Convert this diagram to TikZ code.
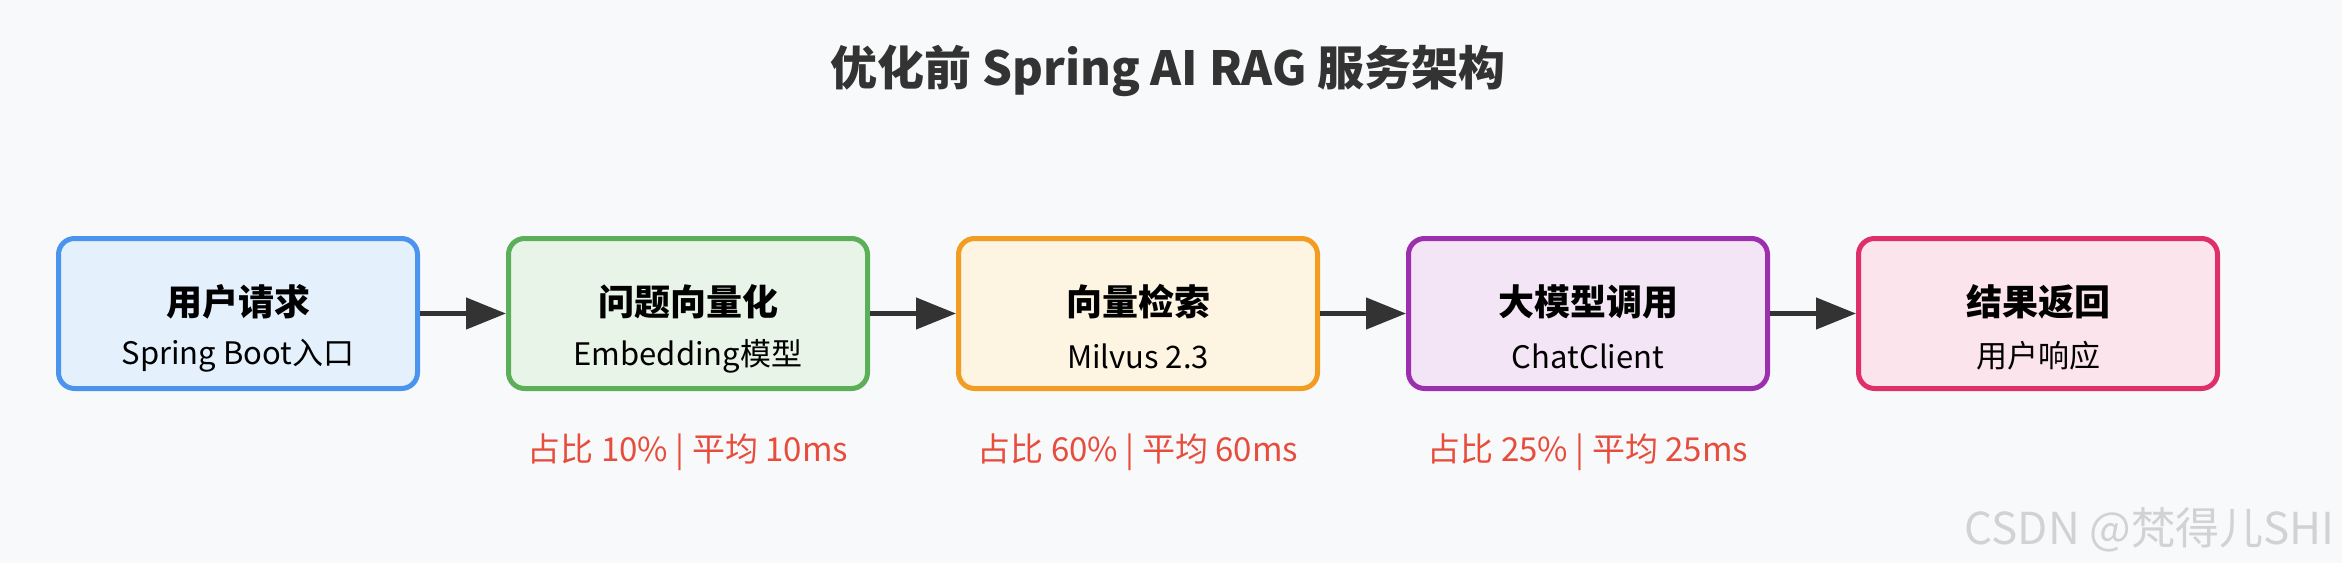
\documentclass[tikz,border=0pt]{standalone}
\usepackage{fontspec}
\setmainfont{Noto Sans CJK SC}
\usepackage{tikz}
\usetikzlibrary{arrows.meta,positioning}
\definecolor{pagebg}{HTML}{F8F9FA}
\definecolor{titlegray}{HTML}{333333}
\definecolor{arrowgray}{HTML}{333333}
\definecolor{costred}{HTML}{E74C3C}
\definecolor{markgray}{HTML}{D2D2D2}
\definecolor{blueline}{HTML}{4A94EE}
\definecolor{bluefill}{HTML}{E4F1FD}
\definecolor{greenline}{HTML}{5AAF58}
\definecolor{greenfill}{HTML}{E9F4E8}
\definecolor{orangeline}{HTML}{F39C22}
\definecolor{orangefill}{HTML}{FDF4E2}
\definecolor{purpleline}{HTML}{9B2FAE}
\definecolor{purplefill}{HTML}{F3E5F5}
\definecolor{pinkline}{HTML}{DF2F68}
\definecolor{pinkfill}{HTML}{FBE4EB}
\tikzset{
  stagebox/.style={draw, line width=5pt, rounded corners=16pt, minimum width=359pt, minimum height=150pt, outer sep=2.5pt, inner sep=0pt},
  headtext/.style={font=\fontsize{36}{40}\selectfont\bfseries, text=black, inner sep=0pt},
  subtext/.style={font=\fontsize{31}{35}\selectfont, text=black, inner sep=0pt},
  costlabel/.style={font=\fontsize{33}{38}\selectfont, text=costred, inner sep=0pt},
  flow/.style={-{Triangle[length=40pt,width=31pt]}, line width=4.5pt, draw=arrowgray}
}
\begin{document}
\begin{tikzpicture}[x=1pt, y=1pt, node distance=86pt]
\fill[pagebg] (0,0) rectangle (2342,-563);
\useasboundingbox (0,0) rectangle (2342,-563);
\node[font=\fontsize{47}{53}\selectfont\bfseries, text=titlegray] (title) at (1168,-71) {优化前 Spring AI RAG 服务架构};
\node[stagebox, draw=blueline, fill=bluefill] (req) at (238,-313.5) {};
\node[stagebox, draw=greenline, fill=greenfill, right=of req] (emb) {};
\node[stagebox, draw=orangeline, fill=orangefill, right=of emb] (vec) {};
\node[stagebox, draw=purpleline, fill=purplefill, right=of vec] (llm) {};
\node[stagebox, draw=pinkline, fill=pinkfill, right=of llm] (res) {};
\node[headtext] (reqh) at ([yshift=11.5pt]req.center) {用户请求};
\node[subtext] (reqs) at ([yshift=-42.5pt]req.center) {Spring Boot入口};
\node[headtext] (embh) at ([yshift=11.5pt]emb.center) {问题向量化};
\node[subtext] (embs) at ([yshift=-42.5pt]emb.center) {Embedding模型};
\node[headtext] (vech) at ([yshift=11.5pt]vec.center) {向量检索};
\node[subtext] (vecs) at ([yshift=-42.5pt]vec.center) {Milvus 2.3};
\node[headtext] (llmh) at ([yshift=11.5pt]llm.center) {大模型调用};
\node[subtext] (llms) at ([yshift=-42.5pt]llm.center) {ChatClient};
\node[headtext] (resh) at ([yshift=11.5pt]res.center) {结果返回};
\node[subtext] (ress) at ([yshift=-42.5pt]res.center) {用户响应};
\draw[flow] (req) -- (emb);
\draw[flow] (emb) -- (vec);
\draw[flow] (vec) -- (llm);
\draw[flow] (llm) -- (res);
\node[costlabel] (embc) at ([yshift=-138.5pt]emb.center) {占比 10\% | 平均 10ms};
\node[costlabel] (vecc) at ([yshift=-138.5pt]vec.center) {占比 60\% | 平均 60ms};
\node[costlabel] (llmc) at ([yshift=-138.5pt]llm.center) {占比 25\% | 平均 25ms};
\node[font=\fontsize{44}{48}\selectfont, text=markgray, anchor=east] (mark) at (2338,-530) {CSDN @梵得儿SHI};
\end{tikzpicture}
\end{document}
